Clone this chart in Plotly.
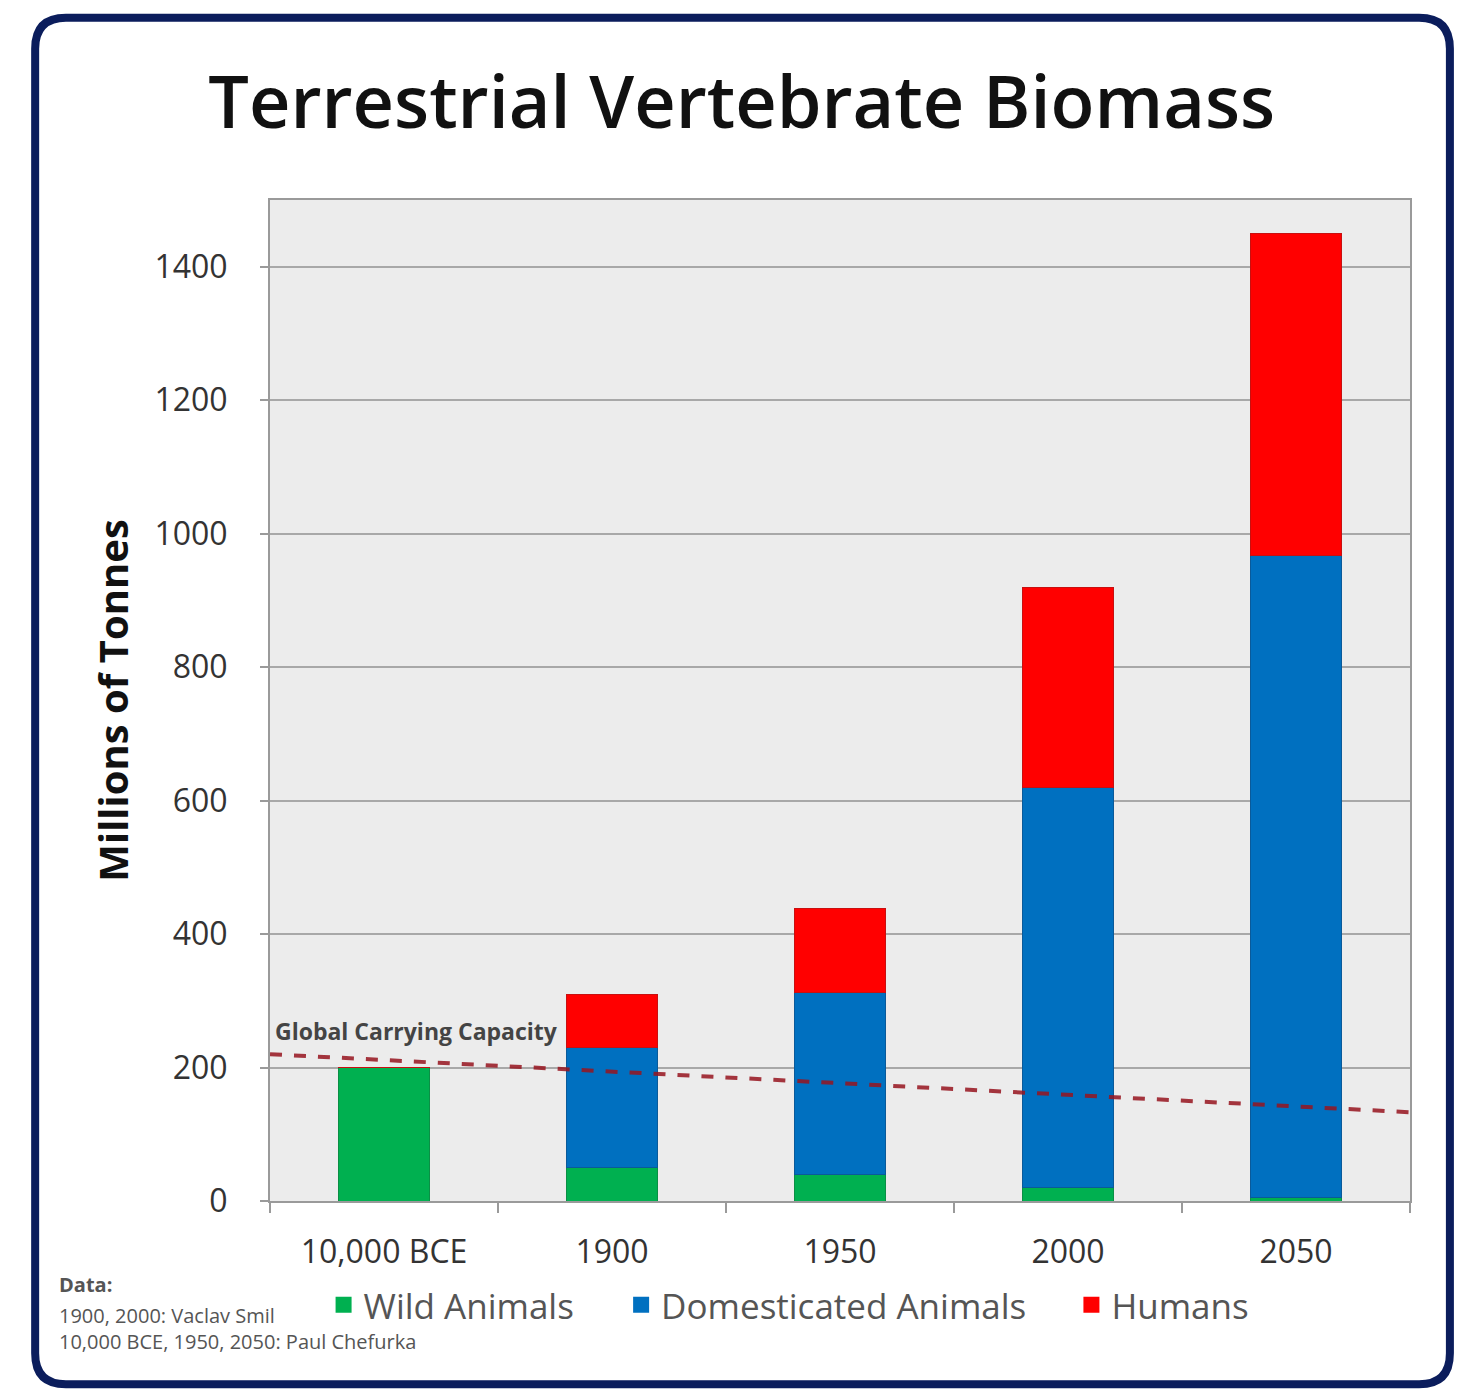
import plotly.graph_objects as go

# category labels and stacked values (millions of tonnes)
years = ["10,000 BCE", "1900", "1950", "2000", "2050"]
wild = [200, 50, 40, 20, 5]
domesticated = [0, 180, 272, 600, 962]
humans = [0, 80, 127, 300, 483]

# global carrying capacity line, left and right edge of the chart
capacity_x = [-0.5, 4.5]
capacity_y = [220, 133]

source_lines = ["<b>Data:</b>", "1900, 2000: Vaclav Smil", "10,000 BCE, 1950, 2050: Paul Chefurka"]

series = [
    ("Wild Animals", wild, "#00b050", "#0a8f45", "legend"),
    ("Domesticated Animals", domesticated, "#0070c0", "#0a5a9a", "legend2"),
    ("Humans", humans, "#ff0000", "#c81010", "legend3"),
]

pos = list(range(len(years)))

fig = go.Figure()

for name, vals, color, edge, leg in series:
    fig.add_trace(go.Bar(x=pos, y=vals, name=name, width=0.4, showlegend=False,
                         marker=dict(color=color, line=dict(color=edge, width=1))))

# legend entries with bigger square keys
for name, vals, color, edge, leg in series:
    fig.add_trace(go.Scatter(x=[None], y=[None], mode="markers", name=name, legend=leg,
                             marker=dict(symbol="square", size=21, color=color)))

fig.add_trace(go.Scatter(x=capacity_x, y=capacity_y, mode="lines", showlegend=False,
                         line=dict(color="rgba(150,20,30,0.85)", width=4, dash="dash"),
                         hoverinfo="skip"))

fig.add_annotation(x=-0.485, y=255, xref="x", yref="y", text="<b>Global Carrying Capacity</b>",
                   showarrow=False, xanchor="left", yanchor="middle",
                   font=dict(family="Open Sans", size=23, color="#444444"))

# data source note, bottom left
note_y = [-0.083, -0.114, -0.140]
for line, ny in zip(source_lines, note_y):
    fig.add_annotation(x=-0.187, y=ny, xref="paper", yref="paper", text=line,
                       showarrow=False, xanchor="left", yanchor="middle",
                       font=dict(family="Open Sans", size=20, color="#555555"))

# rounded outer frame
x0, x1, y0, y1 = -0.206, 1.035, -0.183, 1.182
rx, ry = 0.027, 0.031
path = (f"M {x0+rx},{y1} L {x1-rx},{y1} Q {x1},{y1} {x1},{y1-ry} "
        f"L {x1},{y0+ry} Q {x1},{y0} {x1-rx},{y0} "
        f"L {x0+rx},{y0} Q {x0},{y0} {x0},{y0+ry} "
        f"L {x0},{y1-ry} Q {x0},{y1} {x0+rx},{y1} Z")
fig.add_shape(type="path", path=path, xref="paper", yref="paper",
              line=dict(color="#0b1d5c", width=8), layer="below")

legend_style = dict(orientation="h", xanchor="left", y=-0.104, yanchor="middle",
                    font=dict(family="Open Sans", size=35, color="#555555"),
                    bgcolor="rgba(0,0,0,0)", itemwidth=30)

fig.update_layout(
    width=1460, height=1390,
    margin=dict(l=270, r=50, t=200, b=189),
    paper_bgcolor="white",
    plot_bgcolor="#ececec",
    barmode="stack",
    title=dict(text="Terrestrial Vertebrate Biomass", x=0.508, xanchor="center",
               y=0.926, yanchor="middle",
               font=dict(family="Open Sans", size=72, weight=600, color="#111111")),
    legend=dict(x=0.047, **legend_style),
    legend2=dict(x=0.308, **legend_style),
    legend3=dict(x=0.703, **legend_style),
    font=dict(family="Open Sans", color="#333333"),
)

fig.update_xaxes(range=[-0.5, 4.5], tickvals=pos, ticktext=years, ticks="",
                 tickfont=dict(size=32, color="#333333"), ticklabelstandoff=22,
                 showgrid=False, zeroline=False,
                 showline=True, linecolor="#9a9a9a", linewidth=2, mirror=True,
                 minor=dict(tick0=-0.5, dtick=1, ticks="outside", ticklen=10,
                            tickcolor="#9a9a9a", tickwidth=2, showgrid=False))

fig.update_yaxes(range=[0, 1500], dtick=200, ticks="outside", ticklen=8,
                 tickcolor="#9a9a9a", tickwidth=2,
                 tickfont=dict(size=32, color="#333333"), ticklabelstandoff=26,
                 showgrid=True, gridcolor="#a8a8a8", gridwidth=2, zeroline=False,
                 showline=True, linecolor="#9a9a9a", linewidth=2, mirror=True,
                 title=dict(text="<b>Millions of Tonnes</b>", standoff=13,
                            font=dict(family="Open Sans", size=40, color="#111111")))

fig.write_html("out.html", config={"displayModeBar": False},
               post_script="document.body.style.margin = '0';")
